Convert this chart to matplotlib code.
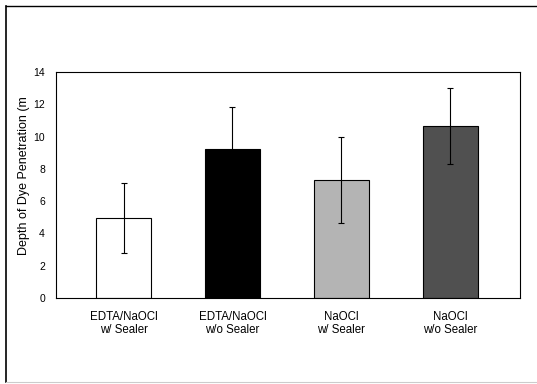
import matplotlib
matplotlib.use("Agg")
import matplotlib.pyplot as plt
import numpy as np

# data
groups = ["EDTA/NaOCl\nw/ Sealer", "EDTA/NaOCl\nw/o Sealer", "NaOCl\nw/ Sealer", "NaOCl\nw/o Sealer"]
means = [4.95, 9.2, 7.3, 10.65]
errors = [2.15, 2.65, 2.65, 2.35]
colors = ["white", "black", "#b4b4b4", "#505050"]
yticks = [0, 2, 4, 6, 8, 10, 12, 14]

plt.rcParams["font.family"] = ["Liberation Sans", "DejaVu Sans"]

fig = plt.figure(figsize=(5.37, 3.84), dpi=100)
# plot box: x 56..520, y 72..298 (pixels)
ax = fig.add_axes([56 / 537, 1 - 298 / 384, 464 / 537, 226 / 384])

x = np.arange(len(groups))
ax.bar(x, means, width=0.505, color=colors, edgecolor="black", linewidth=0.8, zorder=2)
ax.errorbar(x, means, yerr=errors, fmt="none", ecolor="black", elinewidth=0.8,
            capsize=2, capthick=0.8, zorder=3)

ax.set_xlim(-0.62, 3.64)
ax.set_ylim(0, 14)
ax.set_yticks(yticks)
ax.set_yticklabels([str(v) for v in yticks], fontsize=7.5)
ax.tick_params(axis="y", length=0, pad=8)
ax.set_xticks(x)
ax.set_xticklabels(groups, fontsize=8.3, linespacing=1.15)
ax.tick_params(axis="x", length=0, pad=9)
for s in ax.spines.values():
    s.set_linewidth(0.8)

ax.set_ylabel("Depth of Dye Penetration (m", fontsize=9)
ax.yaxis.set_label_coords(-26 / 464, (298 - 176) / 226)

# outer frame of the scanned figure
fig.add_artist(plt.Line2D([6 / 537, 6 / 537], [2 / 384, 1 - 6 / 384], color="black", lw=1.2))
fig.add_artist(plt.Line2D([6 / 537, 1.0], [1 - 6 / 384, 1 - 6 / 384], color="black", lw=1.0))
fig.add_artist(plt.Line2D([6 / 537, 1.0], [2 / 384, 2 / 384], color="#cccccc", lw=0.8))

fig.savefig("out.png", dpi=100)
